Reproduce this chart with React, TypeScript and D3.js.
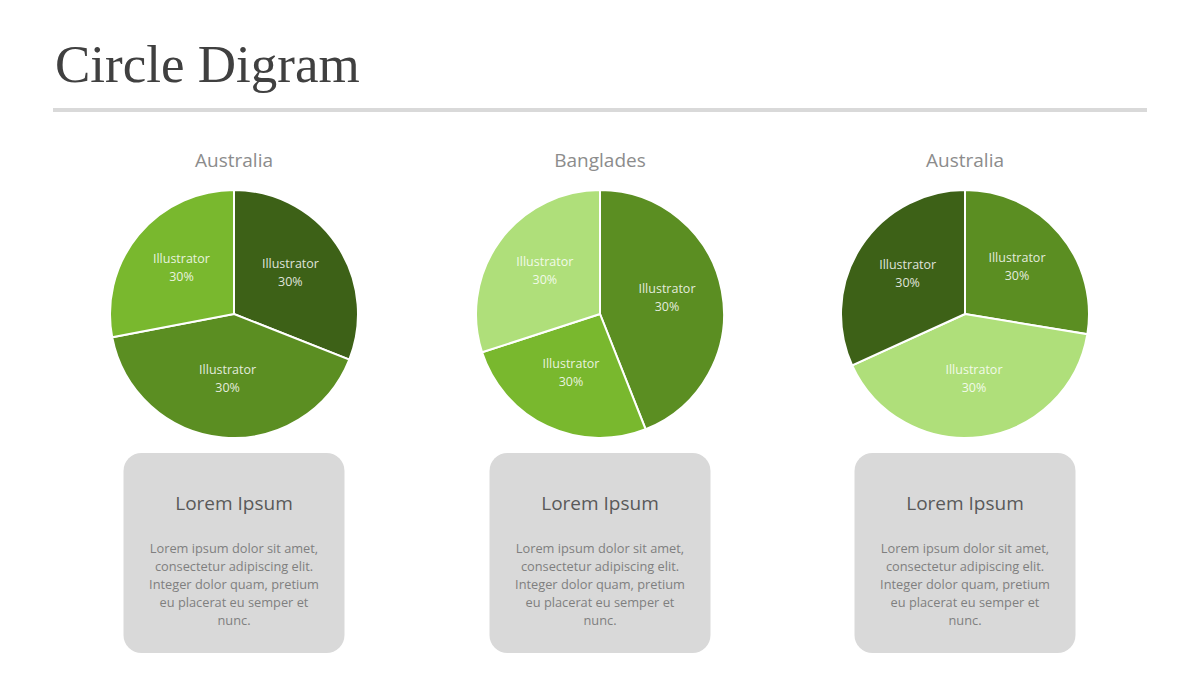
import React from "react";
import * as d3 from "d3";

const pieTitles = ["Australia", "Banglades", "Australia"];
const sliceLabels = ["Illustrator", "Illustrator", "Illustrator"];
const sliceTexts = ["30%", "30%", "30%"];
const pieValues1 = [31, 41, 28];
const pieValues2 = [44, 26, 30];
const pieValues3 = [27.6, 40.6, 31.8];
const pieColors1 = ["#3d6117", "#5b8e22", "#79b82e"];
const pieColors2 = ["#5b8e22", "#79b82e", "#afdf7a"];
const pieColors3 = ["#5b8e22", "#afdf7a", "#3d6117"];
const boxTitle = "Lorem Ipsum";
const boxLines = [
  "Lorem ipsum dolor sit amet,",
  "consectetur adipiscing elit.",
  "Integer dolor quam, pretium",
  "eu placerat eu semper et",
  "nunc.",
];

const allValues = [pieValues1, pieValues2, pieValues3];
const allColors = [pieColors1, pieColors2, pieColors3];
const centersX = [234, 600, 965];

const FONT = "'Open Sans', 'Noto Sans', sans-serif";

export default function App() {
  const R = 124;
  const cy = 314;
  const arc = d3.arc<d3.PieArcDatum<number>>().innerRadius(0).outerRadius(R);
  const labelArc = d3.arc<d3.PieArcDatum<number>>().innerRadius(R * 0.55).outerRadius(R * 0.55);
  const pie = d3.pie<number>().sort(null).value((d) => d);

  return (
    <svg width={1200} height={675} style={{ position: "absolute", left: 0, top: 0, background: "#fff" }}>
      <text x={55} y={82} fontFamily="'Liberation Serif', 'DejaVu Serif', serif" fontSize={53} fill="#404040">
        Circle Digram
      </text>
      <rect x={53} y={108} width={1094} height={4} fill="#d9d9d9" />
      {allValues.map((vals, i) => {
        const arcs = pie(vals);
        const cx = centersX[i];
        return (
          <g key={i}>
            <text x={cx} y={167} textAnchor="middle" fontFamily={FONT} fontSize={19} fill="#8c8c8c">
              {pieTitles[i]}
            </text>
            <g transform={`translate(${cx},${cy})`}>
              {arcs.map((a, j) => (
                <path key={j} d={arc(a) || ""} fill={allColors[i][j]} stroke="#ffffff" strokeWidth={2} />
              ))}
              {arcs.map((a, j) => {
                const [lx, ly] = labelArc.centroid(a);
                return (
                  <text key={"l" + j} x={lx} textAnchor="middle" fontFamily={FONT} fontSize={12.5} fill="#ffffff" fillOpacity={0.85}>
                    <tspan x={lx} y={ly - 8}>{sliceLabels[j]}</tspan>
                    <tspan x={lx} y={ly + 10}>{sliceTexts[j]}</tspan>
                  </text>
                );
              })}
            </g>
            <rect x={cx - 110.5} y={453} width={221} height={200} rx={18} ry={18} fill="#d9d9d9" />
            <text x={cx} y={510} textAnchor="middle" fontFamily={FONT} fontSize={19} fill="#595959">
              {boxTitle}
            </text>
            {boxLines.map((ln, k) => (
              <text key={k} x={cx} y={553 + k * 18} textAnchor="middle" fontFamily={FONT} fontSize={12.8} fill="#7f7f7f">
                {ln}
              </text>
            ))}
          </g>
        );
      })}
    </svg>
  );
}
